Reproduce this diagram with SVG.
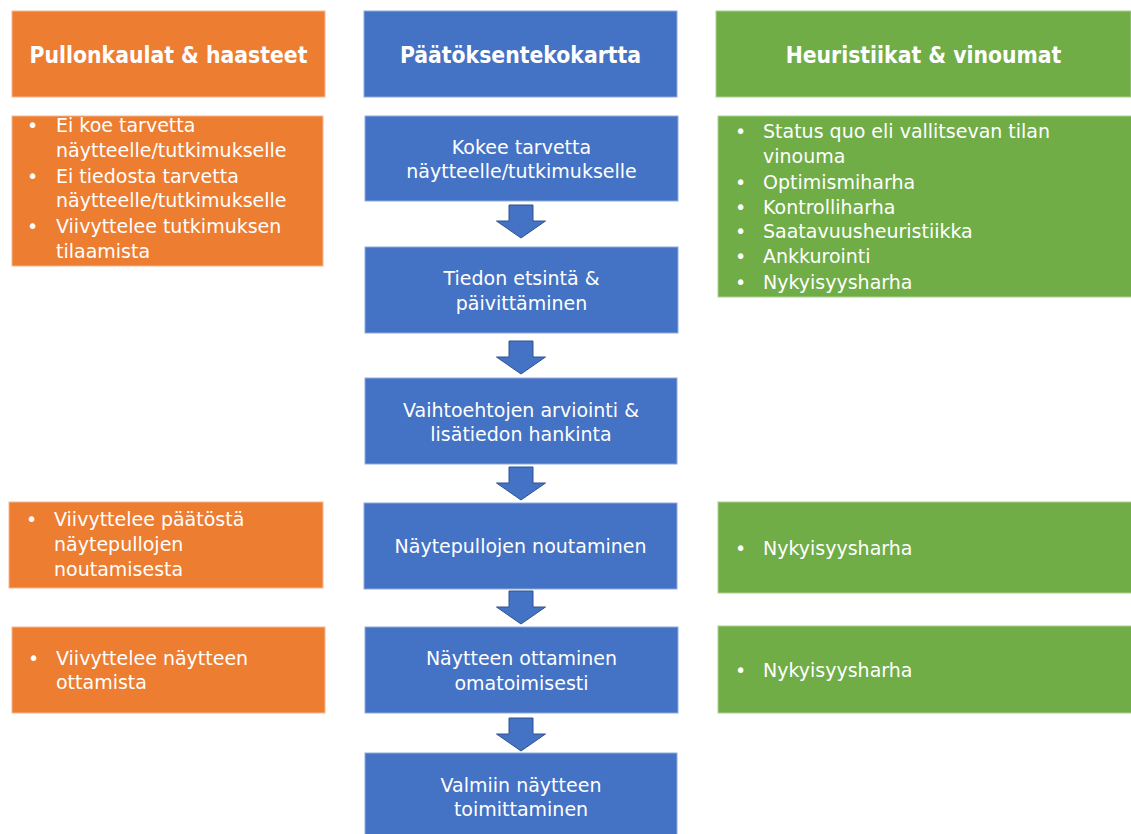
<svg xmlns="http://www.w3.org/2000/svg" width="1131" height="834" viewBox="0 0 1131 834">
<style>
text{font-family:"DejaVu Sans",sans-serif;fill:#fff}
.h{font-family:"DejaVu Sans Condensed","DejaVu Sans",sans-serif;font-stretch:condensed;font-size:22.7px;font-weight:bold;text-anchor:middle}
.c{font-size:19px;text-anchor:middle}
.t{font-size:19px}
.o{fill:#ED7D31;stroke:#F6B88F;stroke-width:1}
.b{fill:#4472C4;stroke:#8FAADC;stroke-width:1}
.g{fill:#70AD47;stroke:#A9D08E;stroke-width:1}
.arr{fill:#4472C4;stroke:#2F528F;stroke-width:1}
</style>
<defs>
<path id="dn" d="M-12,0 H12 V16 H24.5 L0,33 L-24.5,16 H-12 Z"/>
</defs>
<rect width="1131" height="834" fill="#fff"/>

<g id="hdr-left"><rect class="o" x="12" y="11" width="313" height="86"/><text class="h" x="168.5" y="63">Pullonkaulat &amp; haasteet</text></g>
<g id="hdr-mid"><rect class="b" x="364" y="11" width="313" height="86"/><text class="h" x="520.5" y="63">Päätöksentekokartta</text></g>
<g id="hdr-right"><rect class="g" x="716" y="11" width="415" height="86"/><text class="h" x="923.5" y="63">Heuristiikat &amp; vinoumat</text></g>

<g id="left1"><rect class="o" x="12" y="116" width="311" height="150"/>
<text class="t"><tspan x="27" y="132">•</tspan><tspan x="56" y="132">Ei koe tarvetta</tspan><tspan x="56" y="157">näytteelle/tutkimukselle</tspan><tspan x="27" y="183">•</tspan><tspan x="56" y="183">Ei tiedosta tarvetta</tspan><tspan x="56" y="207">näytteelle/tutkimukselle</tspan><tspan x="27" y="233">•</tspan><tspan x="56" y="233">Viivyttelee tutkimuksen</tspan><tspan x="56" y="258">tilaamista</tspan></text></g>

<g id="left2"><rect class="o" x="9" y="502" width="314" height="86"/>
<text class="t"><tspan x="26" y="526">•</tspan><tspan x="54" y="526">Viivyttelee päätöstä</tspan><tspan x="54" y="551">näytepullojen</tspan><tspan x="54" y="576">noutamisesta</tspan></text></g>

<g id="left3"><rect class="o" x="12" y="627" width="313" height="86"/>
<text class="t"><tspan x="28" y="665">•</tspan><tspan x="56" y="665">Viivyttelee näytteen</tspan><tspan x="56" y="689">ottamista</tspan></text></g>

<g id="step1"><rect class="b" x="365" y="116" width="313" height="85"/><text class="c"><tspan x="521.5" y="154">Kokee tarvetta</tspan><tspan x="521.5" y="178">näytteelle/tutkimukselle</tspan></text></g>
<g id="step2"><rect class="b" x="365" y="247" width="313" height="86"/><text class="c"><tspan x="521.5" y="285">Tiedon etsintä &amp;</tspan><tspan x="521.5" y="310">päivittäminen</tspan></text></g>
<g id="step3"><rect class="b" x="365" y="378" width="312" height="86"/><text class="c"><tspan x="521" y="417">Vaihtoehtojen arviointi &amp;</tspan><tspan x="521" y="441">lisätiedon hankinta</tspan></text></g>
<g id="step4"><rect class="b" x="364" y="503" width="313" height="86"/><text class="c"><tspan x="520.5" y="553">Näytepullojen noutaminen</tspan></text></g>
<g id="step5"><rect class="b" x="365" y="627" width="313" height="86"/><text class="c"><tspan x="521.5" y="665">Näytteen ottaminen</tspan><tspan x="521.5" y="690">omatoimisesti</tspan></text></g>
<g id="step6"><rect class="b" x="365" y="753" width="312" height="90"/><text class="c"><tspan x="521" y="792">Valmiin näytteen</tspan><tspan x="521" y="816">toimittaminen</tspan></text></g>

<g id="right1"><rect class="g" x="718" y="116" width="420" height="181"/>
<text class="t"><tspan x="735" y="138">•</tspan><tspan x="763" y="138">Status quo eli vallitsevan tilan</tspan><tspan x="763" y="163">vinouma</tspan><tspan x="735" y="189">•</tspan><tspan x="763" y="189">Optimismiharha</tspan><tspan x="735" y="214">•</tspan><tspan x="763" y="214">Kontrolliharha</tspan><tspan x="735" y="238">•</tspan><tspan x="763" y="238">Saatavuusheuristiikka</tspan><tspan x="735" y="263">•</tspan><tspan x="763" y="263">Ankkurointi</tspan><tspan x="735" y="289">•</tspan><tspan x="763" y="289">Nykyisyysharha</tspan></text></g>

<g id="right2"><rect class="g" x="718" y="502" width="420" height="91"/>
<text class="t"><tspan x="735" y="555">•</tspan><tspan x="763" y="555">Nykyisyysharha</tspan></text></g>
<g id="right3"><rect class="g" x="718" y="626" width="420" height="87"/>
<text class="t"><tspan x="735" y="677">•</tspan><tspan x="763" y="677">Nykyisyysharha</tspan></text></g>

<g id="connectors">
<use href="#dn" class="arr" x="521" y="205"/>
<use href="#dn" class="arr" x="521" y="341"/>
<use href="#dn" class="arr" x="521" y="467"/>
<use href="#dn" class="arr" x="521" y="591"/>
<use href="#dn" class="arr" x="521" y="718"/>
</g>
</svg>
